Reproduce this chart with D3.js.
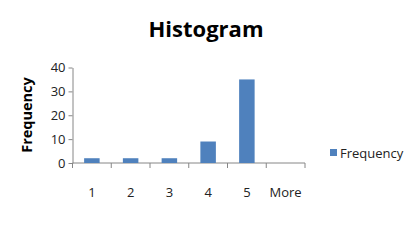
<!DOCTYPE html>
<meta charset="utf-8">
<style>
  body { margin: 0; background: #fff; }
  text { font-family: "Open Sans", sans-serif; fill: #222; }
  .axis path, .axis line { stroke: #868686; }
</style>
<body>
<script src="https://cdn.jsdelivr.net/npm/d3@7"></script>
<script>
  // histogram bins and counts
  var bins = ["1", "2", "3", "4", "5", "More"];
  var frequency = [2, 2, 2, 9, 35, 0];
  var yTicks = [0, 10, 20, 30, 40];

  var width = 415, height = 242;
  var margin = { top: 67.5, left: 72.5, right: 110, bottom: 79 };

  var svg = d3.select("body").append("svg")
    .attr("width", width)
    .attr("height", height);

  var x = d3.scaleBand()
    .domain(bins)
    .range([margin.left, width - margin.right])
    .paddingInner(0.6)
    .paddingOuter(0.3);

  // band used only for tick positions at category edges
  var edge = d3.scaleBand().domain(bins).range(x.range());

  var y = d3.scaleLinear()
    .domain([0, 40])
    .range([height - margin.bottom, margin.top]);

  // title
  svg.append("text")
    .attr("x", 206)
    .attr("y", 37)
    .attr("text-anchor", "middle")
    .style("font-size", "22px")
    .style("font-weight", "bold")
    .style("fill", "#000")
    .text("Histogram");

  // y axis
  var yAxis = svg.append("g")
    .attr("class", "axis")
    .attr("transform", "translate(" + margin.left + ",0)")
    .call(d3.axisLeft(y).tickValues(yTicks).tickSize(4).tickSizeOuter(0));
  yAxis.selectAll("text")
    .style("font-size", "13px")
    .style("fill", "#222")
    .attr("x", -7);

  // x axis: line with ticks at bin edges
  var xg = svg.append("g").attr("class", "axis");
  xg.append("line")
    .attr("x1", margin.left).attr("x2", width - margin.right)
    .attr("y1", y(0)).attr("y2", y(0));
  var edges = bins.map(function (b) { return edge(b); }).concat([edge.range()[1]]);
  xg.selectAll(".tk").data(edges).enter().append("line")
    .attr("class", "tk")
    .attr("x1", function (d) { return d; }).attr("x2", function (d) { return d; })
    .attr("y1", y(0)).attr("y2", y(0) + 5);
  xg.selectAll(".lbl").data(bins).enter().append("text")
    .attr("class", "lbl")
    .attr("x", function (d) { return edge(d) + edge.bandwidth() / 2; })
    .attr("y", 197)
    .attr("text-anchor", "middle")
    .style("font-size", "13px")
    .text(function (d) { return d; });

  // bars
  svg.selectAll(".bar").data(bins).enter().append("rect")
    .attr("class", "bar")
    .attr("x", function (d) { return x(d); })
    .attr("width", x.bandwidth())
    .attr("y", function (d, i) { return y(frequency[i]); })
    .attr("height", function (d, i) { return y(0) - y(frequency[i]); })
    .style("fill", "#4F81BD");

  // y title
  svg.append("text")
    .attr("transform", "translate(32,115) rotate(-90)")
    .attr("text-anchor", "middle")
    .style("font-size", "14.5px")
    .style("font-weight", "bold")
    .style("fill", "#000")
    .text("Frequency");

  // legend
  svg.append("rect")
    .attr("x", 330).attr("y", 149)
    .attr("width", 7).attr("height", 7)
    .style("fill", "#4F81BD");
  svg.append("text")
    .attr("x", 340).attr("y", 157.5)
    .style("font-size", "13px")
    .text("Frequency");
</script>
</body>
